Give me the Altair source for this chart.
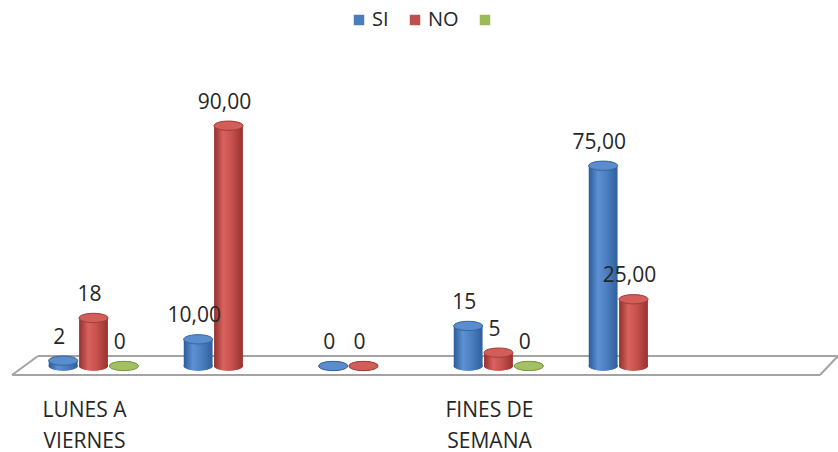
import altair as alt
import pandas as pd

# Category slots along the floor (only two of them carry a visible label)
categories = ["LUNES A\nVIERNES", " ", "  ", "FINES DE\nSEMANA", "   ", "    "]
series = ["SI", "NO", " "]

si_values = [2, 10, 0, 15, 75, None]
no_values = [18, 90, 0, 5, 25, None]
third_values = [0, None, None, 0, None, None]
decimals = [0, 2, 0, 0, 2, 0]

flat_colors = ["#4a7ebb", "#c0504d", "#9bbb59"]
side_gradients = [
    ["#2c5b98", "#5d91d4", "#4d80c2", "#30609c"],
    ["#93302d", "#d8625e", "#c8524e", "#97322f"],
    ["#6c8738", "#abc66c", "#94b055", "#6f8a3a"],
]
cap_fill = ["#5a8cce", "#d25e5a", "#a4c064"]
cap_stroke = ["#35649f", "#a03a37", "#789540"]

FONT = "Open Sans"
TEXT = "#262626"

rows = []
for serie, vals in zip(series, [si_values, no_values, third_values]):
    for cat, v, d in zip(categories, vals, decimals):
        if v is None:
            continue
        rows.append({
            "categoria": cat,
            "serie": serie,
            "valor": v,
            "etiqueta": f"{v:.{d}f}".replace(".", ","),
        })
df = pd.DataFrame(rows)

ELLIPSE = "M-1,0A1,0.32,0,1,1,1,0A1,0.32,0,1,1,-1,0Z"
DISC_SIZE = 29 * 29

x_enc = alt.X(
    "categoria:N",
    sort=categories,
    scale=alt.Scale(domain=categories, paddingInner=0, paddingOuter=0),
    axis=alt.Axis(
        title=None, domain=False, ticks=False, grid=False,
        labelExpr="split(datum.value, '\\n')",
        labelFont=FONT, labelFontSize=21, labelColor=TEXT,
        labelPadding=33, labelLineHeight=31, labelOffset=-9, labelAngle=0,
    ),
)
xoff_enc = alt.XOffset(
    "serie:N", sort=series,
    scale=alt.Scale(domain=series, paddingInner=0.05, paddingOuter=0.75),
)
y_enc = alt.Y("valor:Q", scale=alt.Scale(domain=[0, 100]), axis=None)

base = alt.Chart(df)

# Floor of the 3-D plot
floor_color = "#a3a3a3"
floor = [
    alt.Chart().mark_rule(color=floor_color, strokeWidth=2).encode(
        x=alt.value(12), x2=alt.value(812), y=alt.value(257), y2=alt.value(257)),
    alt.Chart().mark_rule(color=floor_color, strokeWidth=2).encode(
        x=alt.value(-14), x2=alt.value(794), y=alt.value(276), y2=alt.value(276)),
    alt.Chart().mark_rule(color=floor_color, strokeWidth=2).encode(
        x=alt.value(-14), x2=alt.value(12), y=alt.value(276), y2=alt.value(257)),
    alt.Chart().mark_rule(color=floor_color, strokeWidth=2).encode(
        x=alt.value(794), x2=alt.value(812), y=alt.value(276), y2=alt.value(257)),
]

# Rounded bottoms of the cylinders (also provides the legend)
bottoms = base.mark_point(shape=ELLIPSE, filled=True, size=DISC_SIZE, opacity=1).encode(
    x=x_enc, xOffset=xoff_enc,
    y=alt.Y("zero:Q", scale=alt.Scale(domain=[0, 100]), axis=None),
    color=alt.Color(
        "serie:N",
        scale=alt.Scale(domain=series, range=flat_colors),
        legend=alt.Legend(
            orient="none", legendX=323, legendY=-89, direction="horizontal",
            title=None, symbolType="square", symbolSize=110, symbolStrokeWidth=0,
            labelFont=FONT, labelFontSize=20, labelColor=TEXT,
            columnPadding=16, labelOffset=3,
        ),
    ),
).transform_calculate(zero="0")

layers = floor + [bottoms]

for i, serie in enumerate(series):
    stops = side_gradients[i]
    grad = {
        "gradient": "linear", "x1": 0, "x2": 1, "y1": 0, "y2": 0,
        "stops": [
            {"offset": 0, "color": stops[0]},
            {"offset": 0.32, "color": stops[1]},
            {"offset": 0.6, "color": stops[2]},
            {"offset": 1, "color": stops[3]},
        ],
    }
    sub = base.transform_filter(alt.datum.serie == serie)
    body = sub.mark_bar(color=grad).encode(x=x_enc, xOffset=xoff_enc, y=y_enc)
    base_disc = sub.mark_point(
        shape=ELLIPSE, filled=True, size=DISC_SIZE, opacity=1, color=grad,
    ).encode(
        x=x_enc, xOffset=xoff_enc,
        y=alt.Y("zero:Q", scale=alt.Scale(domain=[0, 100]), axis=None),
    ).transform_calculate(zero="0")
    cap = sub.mark_point(
        shape=ELLIPSE, filled=True, size=DISC_SIZE, opacity=1,
        fill=cap_fill[i], stroke=cap_stroke[i], strokeWidth=1,
    ).encode(x=x_enc, xOffset=xoff_enc, y=y_enc)
    layers += [base_disc, body, cap]

labels = base.mark_text(
    font=FONT, fontSize=21, color=TEXT, baseline="middle", dy=-23, dx=-4,
).encode(x=x_enc, xOffset=xoff_enc, y=y_enc, text="etiqueta:N")
layers.append(labels)

chart = alt.layer(*layers).properties(
    width=810, height=267,
    autosize=alt.AutoSizeParams(type="none"),
    padding={"left": 26, "top": 99, "right": 2, "bottom": 86},
    background="white",
).configure_view(stroke=None)

chart.save("out.html", embed_options={"renderer": "svg", "actions": False})
